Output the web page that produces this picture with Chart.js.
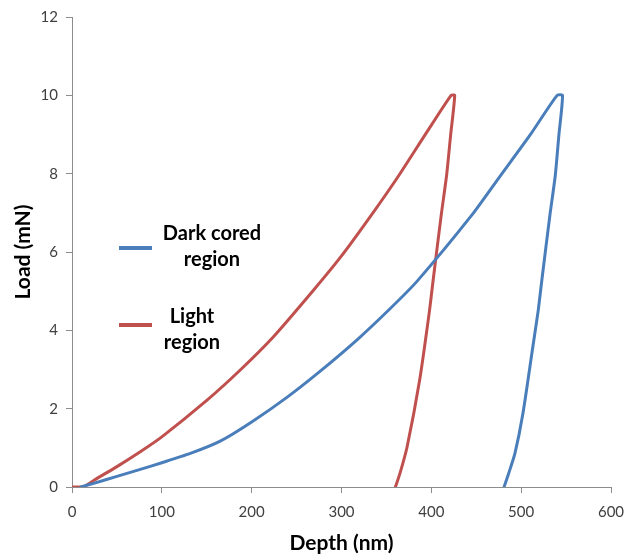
<!DOCTYPE html>
<html>
<head>
<meta charset="utf-8">
<script src="https://cdn.jsdelivr.net/npm/chart.js@4"></script>
<style>
  html, body { margin: 0; padding: 0; background: #fff; }
  #wrap { width: 638px; height: 558px; }
</style>
</head>
<body>
<div id="wrap"><canvas id="loadChart"></canvas></div>
<script>
// depth in nm, load in mN (loading, hold, unloading in order)
const darkDepth = [10, 25, 50, 76, 100, 131, 165, 200, 240, 276, 317, 354, 384, 445, 476, 510, 540, 546, 542, 538, 532, 523, 519, 513, 502, 493, 486, 481];
const darkLoad  = [0, 0.1, 0.27, 0.45, 0.62, 0.85, 1.17, 1.66, 2.3, 2.95, 3.75, 4.55, 5.25, 6.94, 7.92, 8.99, 10, 10, 8.99, 7.96, 6.94, 5.28, 4.51, 3.58, 1.88, 0.85, 0.34, 0];

const lightDepth = [0, 12, 25, 50, 76, 100, 150, 187, 224, 269, 300, 335, 364, 393, 422, 426, 421.5, 417, 411, 402, 398, 387, 373, 365, 360];
const lightLoad  = [0, 0, 0.18, 0.52, 0.9, 1.28, 2.21, 2.98, 3.83, 5.03, 5.9, 7.0, 7.96, 8.99, 10, 10, 8.99, 7.96, 6.94, 5.28, 4.51, 2.73, 1.02, 0.34, 0];

const seriesNames = [['Dark cored', 'region'], ['Light', 'region']];
const xTicks = [0, 100, 200, 300, 400, 500, 600];
const yTicks = [0, 2, 4, 6, 8, 10, 12];

const BLUE = '#4A7EBB';
const RED = '#C0504D';
const FONT = 'Lato, "Open Sans", sans-serif';

function toPoints(xs, ys) {
    return xs.map((x, i) => ({ x: x, y: ys[i] }));
}

// legend sits inside the plot, line on the left, two-line bold label
const insideLegend = {
    id: 'insideLegend',
    afterDraw(chart) {
        const ctx = chart.ctx;
        const spots = [
            { lineY: 248, textX: 212, textY: 240 },
            { lineY: 325, textX: 192, textY: 323 },
        ];
        ctx.save();
        chart.data.datasets.forEach((ds, i) => {
            const s = spots[i];
            ctx.strokeStyle = ds.borderColor;
            ctx.lineWidth = 4;
            ctx.beginPath();
            ctx.moveTo(119, s.lineY);
            ctx.lineTo(152, s.lineY);
            ctx.stroke();
            ctx.fillStyle = '#000';
            ctx.font = 'bold 20px ' + FONT;
            ctx.textAlign = 'center';
            ctx.textBaseline = 'alphabetic';
            ds.label.forEach((line, j) => {
                ctx.fillText(line, s.textX, s.textY + j * 26);
            });
        });
        ctx.restore();
    }
};

const lineStyle = {
    showLine: true,
    borderWidth: 3,
    pointRadius: 0,
    tension: 0.2,
    borderJoinStyle: 'round',
    borderCapStyle: 'round',
};

new Chart(document.getElementById('loadChart'), {
    type: 'scatter',
    data: {
        datasets: [
            Object.assign({
                label: seriesNames[0],
                data: toPoints(darkDepth, darkLoad),
                borderColor: BLUE,
                backgroundColor: BLUE,
            }, lineStyle),
            Object.assign({
                label: seriesNames[1],
                data: toPoints(lightDepth, lightLoad),
                borderColor: RED,
                backgroundColor: RED,
            }, lineStyle),
        ],
    },
    options: {
        responsive: true,
        maintainAspectRatio: false,
        animation: false,
        layout: { padding: { top: 17, right: 27, left: 0, bottom: 0 } },
        plugins: {
            legend: { display: false },
            tooltip: { enabled: false },
        },
        scales: {
            x: {
                type: 'linear',
                min: 0,
                max: 600,
                afterFit(scale) { scale.height = 71; },
                afterBuildTicks(scale) { scale.ticks = xTicks.map(v => ({ value: v })); },
                grid: {
                    drawOnChartArea: false,
                    tickLength: 6,
                    color: '#8C8C8C',
                },
                border: { color: '#8C8C8C', width: 1 },
                ticks: {
                    padding: 10,
                    color: '#404040',
                    font: { family: FONT, size: 15 },
                },
                title: {
                    display: true,
                    text: 'Depth (nm)',
                    color: '#000',
                    font: { family: FONT, size: 21, weight: 'bold' },
                    padding: { top: 0, bottom: 2 },
                },
            },
            y: {
                type: 'linear',
                min: 0,
                max: 12,
                afterFit(scale) { scale.width = 72; },
                afterBuildTicks(scale) { scale.ticks = yTicks.map(v => ({ value: v })); },
                grid: {
                    drawOnChartArea: false,
                    tickLength: 6,
                    color: '#8C8C8C',
                },
                border: { color: '#8C8C8C', width: 1 },
                ticks: {
                    padding: 8,
                    color: '#404040',
                    font: { family: FONT, size: 15 },
                },
                title: {
                    display: true,
                    text: 'Load (mN)',
                    color: '#000',
                    font: { family: FONT, size: 21, weight: 'bold' },
                    padding: { top: 11, bottom: 0 },
                },
            },
        },
    },
    plugins: [insideLegend],
});
</script>
</body>
</html>
